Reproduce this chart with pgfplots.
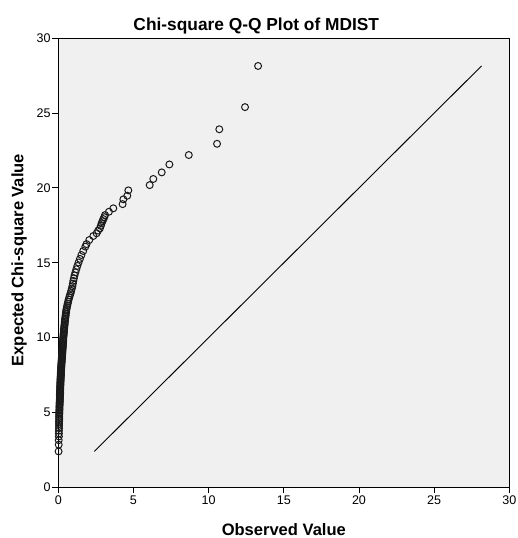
\documentclass[border=0pt]{standalone}
\usepackage{fontspec}
\setmainfont{Liberation Sans}
\usepackage{pgfplots}
\pgfplotsset{compat=1.18}
\definecolor{bg}{HTML}{F0F0F0}
\definecolor{pt}{HTML}{1A1A1A}
\begin{document}
\begin{tikzpicture}
\begin{axis}[
  scale only axis, width=338.25pt, height=336.75pt,
  xmin=0, xmax=30, ymin=0, ymax=30,
  xtick={0,5,...,30}, ytick={0,5,...,30},
  tick align=outside, tick pos=left, major tick length=4.5pt,
  axis background/.style={fill=bg},
  axis line style={black, line width=0.8pt},
  tick style={black, line width=0.7pt},
  /pgf/number format/assume math mode=true,
  ticklabel style={font=\fontsize{9.4}{10}\selectfont},
  xticklabel style={inner sep=1.5pt},
  yticklabel style={inner sep=1pt},
  every axis title shift=0pt,
  title={Chi-square Q-Q Plot of MDIST},
  title style={font=\fontsize{13}{15}\selectfont\bfseries, at={(axis description cs:0.439,1.0163)}, anchor=base},
  xlabel={Observed Value},
  xlabel style={font=\fontsize{12.4}{14}\selectfont\bfseries, at={(axis description cs:0.5,-0.1063)}, anchor=base},
  ylabel={Expected Chi-square Value},
  ylabel style={font=\fontsize{12.4}{14}\selectfont\bfseries, at={(axis description cs:-0.0772,0.506)}, anchor=base},
]
\addplot[only marks, mark=o, mark size=2.6pt, draw=pt, mark options={line width=0.75pt}] table {
x y
0.02 2.40
0.03 2.85
0.03 3.15
0.04 3.40
0.04 3.60
0.04 3.78
0.05 3.95
0.05 4.10
0.05 4.24
0.05 4.37
0.06 4.49
0.06 4.61
0.06 4.72
0.06 4.83
0.07 4.93
0.07 5.03
0.07 5.13
0.08 5.22
0.08 5.31
0.08 5.40
0.09 5.49
0.09 5.57
0.09 5.65
0.10 5.73
0.10 5.81
0.10 5.89
0.11 5.97
0.11 6.05
0.11 6.12
0.11 6.19
0.12 6.26
0.12 6.33
0.12 6.40
0.12 6.47
0.13 6.54
0.13 6.61
0.13 6.68
0.13 6.75
0.14 6.82
0.14 6.89
0.14 6.95
0.14 7.02
0.15 7.09
0.15 7.15
0.15 7.22
0.16 7.28
0.16 7.35
0.16 7.41
0.17 7.48
0.17 7.54
0.17 7.61
0.18 7.67
0.18 7.74
0.18 7.80
0.19 7.87
0.19 7.93
0.19 8.00
0.20 8.06
0.20 8.13
0.21 8.19
0.21 8.26
0.22 8.33
0.22 8.39
0.23 8.46
0.23 8.53
0.24 8.59
0.24 8.66
0.25 8.73
0.25 8.80
0.26 8.87
0.26 8.94
0.27 9.01
0.27 9.08
0.28 9.15
0.28 9.22
0.29 9.29
0.29 9.36
0.30 9.43
0.30 9.50
0.31 9.58
0.31 9.65
0.32 9.73
0.32 9.80
0.33 9.88
0.33 9.96
0.34 10.04
0.35 10.12
0.35 10.20
0.36 10.28
0.37 10.36
0.38 10.45
0.38 10.53
0.39 10.62
0.40 10.71
0.41 10.80
0.42 10.89
0.43 10.98
0.44 11.08
0.45 11.18
0.46 11.28
0.48 11.38
0.49 11.48
0.50 11.59
0.52 11.70
0.53 11.81
0.55 11.92
0.58 12.04
0.60 12.16
0.63 12.28
0.66 12.41
0.69 12.54
0.73 12.68
0.77 12.82
0.82 12.97
0.86 13.12
0.90 13.28
0.94 13.44
0.97 13.61
1.00 13.79
1.04 13.97
1.08 14.16
1.14 14.36
1.20 14.57
1.27 14.79
1.35 15.02
1.44 15.26
1.54 15.52
1.66 15.79
1.80 16.08
1.88 16.25
2.06 16.52
2.33 16.79
2.55 16.97
2.65 17.15
2.77 17.30
2.83 17.47
2.88 17.63
2.94 17.78
3.00 17.92
3.06 18.05
3.11 18.19
3.37 18.41
3.66 18.64
4.28 18.92
4.33 19.24
4.59 19.48
4.66 19.84
6.08 20.19
6.32 20.60
6.88 21.04
7.39 21.57
8.68 22.20
10.56 22.95
10.71 23.92
12.42 25.40
13.29 28.15
};
\addplot[black, line width=0.7pt] coordinates {(2.40,2.40) (28.15,28.15)};
\end{axis}
\pgfresetboundingbox
\path[use as bounding box] ([xshift=-43.7pt, yshift=-38pt]current axis.south west) rectangle ([xshift=6.5pt, yshift=28.7pt]current axis.north east);
\end{tikzpicture}
\end{document}
